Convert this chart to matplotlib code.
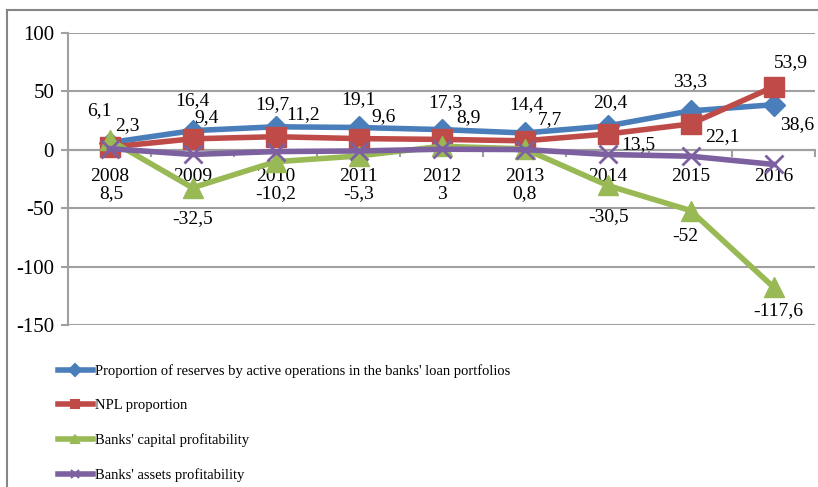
import numpy as np
import matplotlib
matplotlib.use("Agg")
import matplotlib.pyplot as plt
from matplotlib.lines import Line2D

plt.rcParams['font.family'] = ['Liberation Serif', 'DejaVu Serif']
plt.rcParams['axes.unicode_minus'] = False

# data
years = ['2008', '2009', '2010', '2011', '2012', '2013', '2014', '2015', '2016']
reserves = [6.1, 16.4, 19.7, 19.1, 17.3, 14.4, 20.4, 33.3, 38.6]
npl = [2.3, 9.4, 11.2, 9.6, 8.9, 7.7, 13.5, 22.1, 53.9]
capital = [8.5, -32.5, -10.2, -5.3, 3, 0.8, -30.5, -52, -117.6]
assets = [1.0, -4.0, -1.5, -1.0, 0.5, 0.2, -4.0, -5.5, -12.5]  # no labels, estimated
names = ["Proportion of reserves by active operations in the banks' loan portfolios",
         "NPL proportion",
         "Banks' capital profitability",
         "Banks' assets profitability"]

# label offsets in pixels (text centre relative to point)
off_res = [(-10, 32), (0, 30), (-3, 22), (0, 28), (4, 27), (2, 28), (3, 23), (0, 29), (24, -20)]
off_npl = [(18, 22), (14, 21), (28, 22), (25, 22), (27, 22), (25, 21), (31, -11), (32, -13), (17, 24)]
off_cap = [(2, -54), (0, -31), (0, -32), (0, -38), (0, -48), (0, -45), (1, -31), (-5, -26), (5, -23)]

colors = ['#4a7ebb', '#be4b48', '#98b954', '#7d60a0']
markers = ['D', 's', '^', 'x']
msizes = [11, 14, 15, 13]

fig = plt.figure(figsize=(8.18, 4.87), dpi=100)
ax = fig.add_axes([68/818, 1-325/487, 747/818, 292/487])

x = np.arange(len(years))
series = [reserves, npl, capital, assets]
for s, c, m, ms in zip(series, colors, markers, msizes):
    ax.plot(x, s, color=c, lw=4, marker=m, ms=ms, mew=2 if m == 'x' else 1,
            mec=c, mfc=c, zorder=3)

def fmt(v):
    return ('%g' % v).replace('.', ',')

for s, offs in [(reserves, off_res), (npl, off_npl), (capital, off_cap)]:
    for xi, v, o in zip(x, s, offs):
        ax.annotate(fmt(v), (xi, v), xytext=o, textcoords='offset pixels',
                    ha='center', va='center', fontsize=14, zorder=5)

ax.set_xlim(-0.5, len(years) - 0.5)
ax.set_ylim(-150, 100)
ax.set_yticks([100, 50, 0, -50, -100, -150])
ax.grid(axis='y', color='#a0a0a0', lw=1.5)
ax.set_axisbelow(True)
for sp in ['top', 'right']:
    ax.spines[sp].set_visible(False)
ax.spines['left'].set_color('#a0a0a0')
ax.spines['left'].set_linewidth(1.5)
ax.spines['bottom'].set_position(('data', 0))
ax.spines['bottom'].set_color('#a0a0a0')
ax.spines['bottom'].set_linewidth(1.5)
ax.set_xticks(x)
ax.set_xticklabels(years, fontsize=14)
ax.set_xticks(np.arange(-0.5, len(years)), minor=True)
ax.tick_params(axis='x', which='major', length=0, pad=13)
ax.tick_params(axis='x', which='minor', length=5, color='#a0a0a0', width=1.5)
ax.tick_params(axis='y', length=5, color='#a0a0a0', width=1.5, labelsize=15, pad=5)

handles = [Line2D([], [], color=c, lw=4, marker=m, ms=6, mec=c, mfc=c, mew=1.5)
           for c, m in zip(colors, markers)]
fig.legend(handles, names, loc='upper left', bbox_to_anchor=(52/818, 1-358/487),
           frameon=False, fontsize=10.5, handlelength=2.4, handletextpad=0.15,
           labelspacing=1.45, borderaxespad=0)

# outer chart frame
fig.add_artist(Line2D([7/818, 7/818], [0, 1-10/487], color='#868686', lw=1.5))
fig.add_artist(Line2D([7/818, 1], [1-10/487, 1-10/487], color='#868686', lw=1.5))

plt.savefig('out.png', dpi=100)
